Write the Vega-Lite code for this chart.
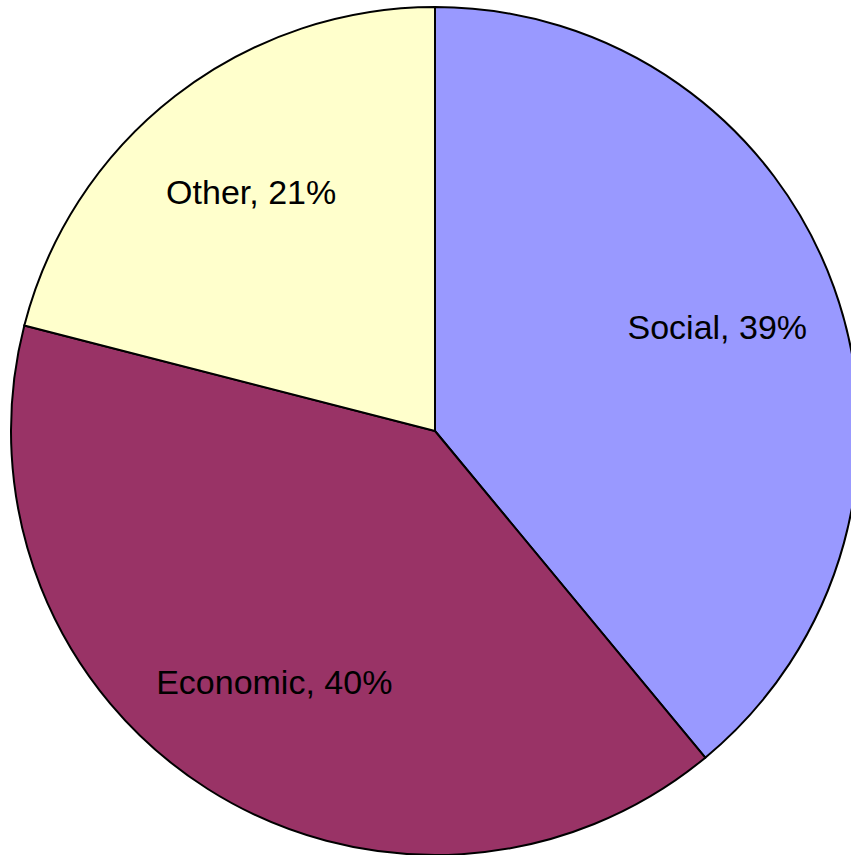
{
  "$schema": "https://vega.github.io/schema/vega-lite/v6.json",
  "autosize": "none",
  "padding": 0,
  "width": 870,
  "height": 862,
  "background": "white",
  "data": {"values": [
    {"category": "Social", "share": 39, "seq": 1},
    {"category": "Economic", "share": 40, "seq": 2},
    {"category": "Other", "share": 21, "seq": 3}
  ]},
  "encoding": {
    "theta": {"field": "share", "type": "quantitative", "stack": true},
    "order": {"field": "seq", "type": "quantitative"},
    "color": {
      "field": "category", "type": "nominal", "legend": null,
      "scale": {"domain": ["Social", "Economic", "Other"], "range": ["#9999FF", "#993366", "#FFFFCC"]}
    }
  },
  "layer": [
    {"mark": {"type": "arc", "outerRadius": 424, "stroke": "black", "strokeWidth": 2}},
    {
      "mark": {"type": "text", "radius": 300, "font": "Liberation Sans", "fontSize": 34, "fill": "black"},
      "encoding": {
        "text": {"field": "label", "type": "nominal"},
        "color": {"value": "black"}
      },
      "transform": [{"calculate": "datum.category + ', ' + datum.share + '%'", "as": "label"}]
    }
  ],
  "config": {"view": {"stroke": null}}
}
